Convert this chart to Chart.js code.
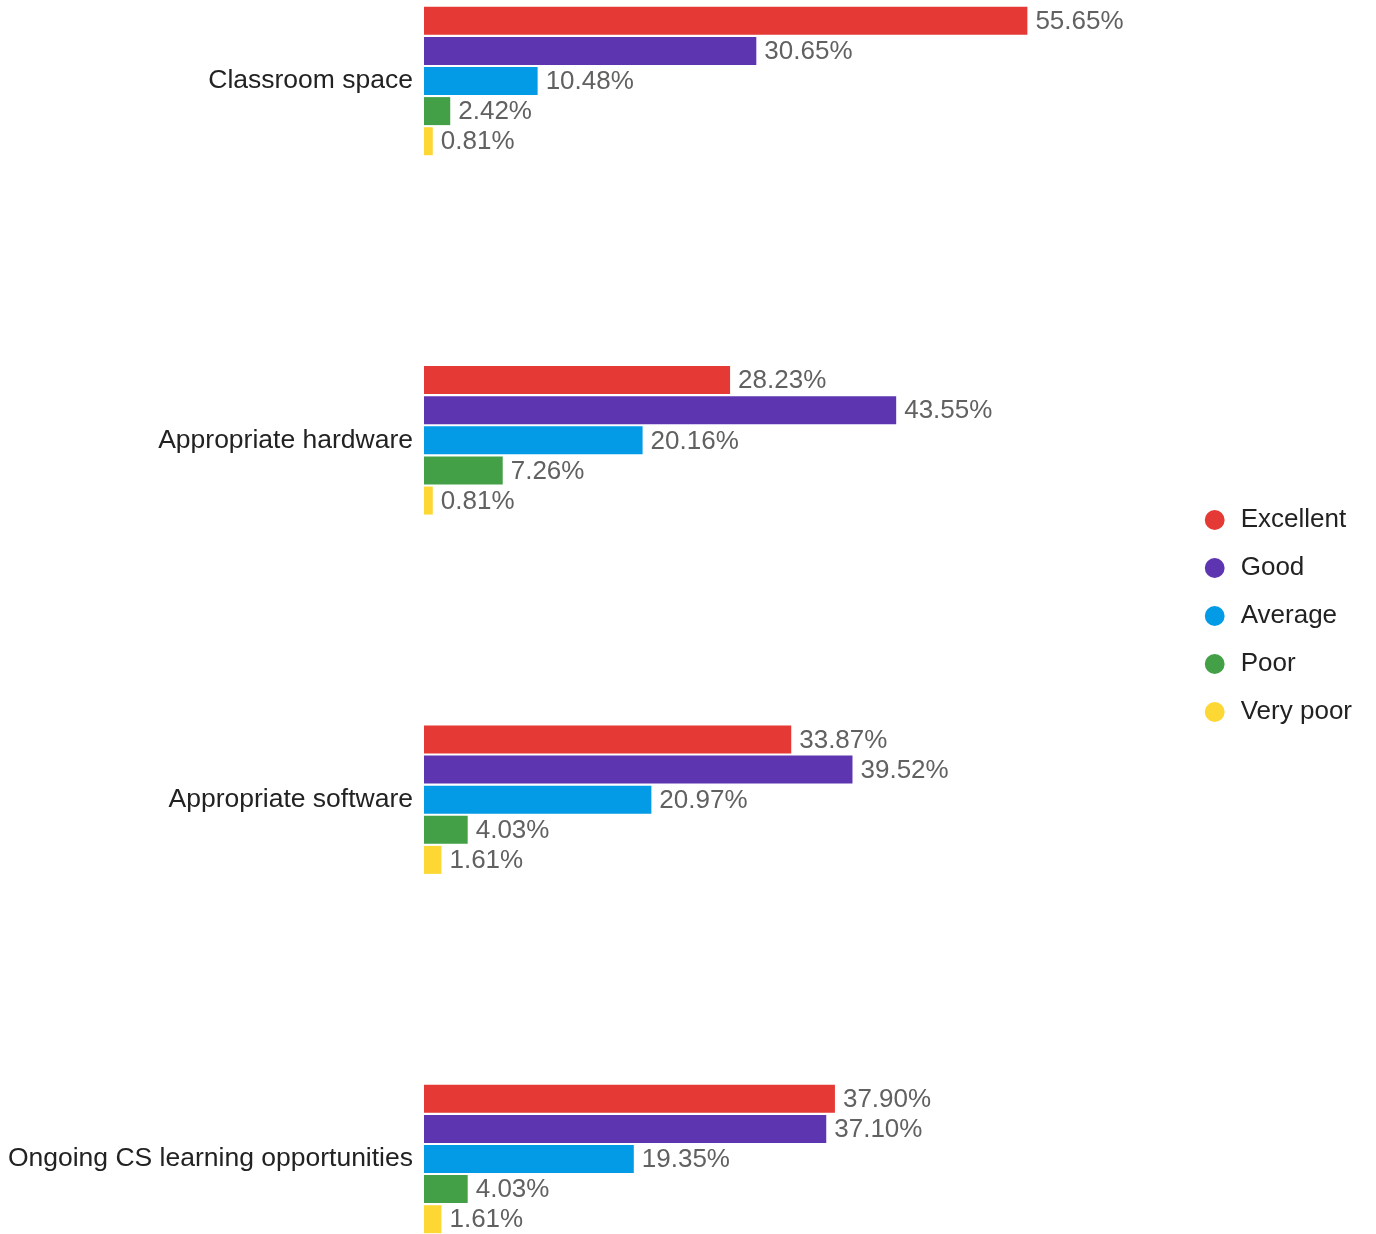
<!DOCTYPE html>
<html>
<head>
<meta charset="utf-8">
<title>CS facilities rating</title>
<script src="https://cdn.jsdelivr.net/npm/chart.js@4/dist/chart.umd.min.js"></script>
<style>
  html, body { margin: 0; padding: 0; background: #fff; }
  #wrap { width: 1376px; height: 1234px; position: relative; }
</style>
</head>
<body>
<div id="wrap"><canvas id="chart"></canvas></div>
<script>
// categories and series (percent of respondents)
const categories = ['Classroom space', 'Appropriate hardware', 'Appropriate software', 'Ongoing CS learning opportunities'];
const seriesNames = ['Excellent', 'Good', 'Average', 'Poor', 'Very poor'];
const excellent = [55.65, 28.23, 33.87, 37.90];
const good = [30.65, 43.55, 39.52, 37.10];
const average = [10.48, 20.16, 20.97, 19.35];
const poor = [2.42, 7.26, 4.03, 4.03];
const veryPoor = [0.81, 0.81, 1.61, 1.61];

const seriesColors = ['#e53935', '#5e35b1', '#039be5', '#43a047', '#fdd835'];
const seriesValues = [excellent, good, average, poor, veryPoor];

Chart.defaults.font.family = '"Liberation Sans", Arial, sans-serif';

// value labels just right of each bar
const barValueLabels = {
    id: 'barValueLabels',
    afterDatasetsDraw(chart) {
        const ctx = chart.ctx;
        ctx.save();
        ctx.font = '26px "Liberation Sans", Arial, sans-serif';
        ctx.fillStyle = '#616161';
        ctx.textAlign = 'left';
        ctx.textBaseline = 'middle';
        chart.data.datasets.forEach((ds, i) => {
            const meta = chart.getDatasetMeta(i);
            meta.data.forEach((bar, j) => {
                ctx.fillText(ds.data[j].toFixed(2) + '%', bar.x + 8, bar.y + 1);
            });
        });
        ctx.restore();
    }
};

// small vertical nudge for the legend column
const legendShift = {
    id: 'legendShift',
    afterLayout(chart) {
        const lg = chart.legend;
        if (lg) {
            lg.top -= 4;
            lg.bottom -= 4;
        }
    }
};

const datasets = seriesNames.map((name, i) => ({
    label: name,
    data: seriesValues[i],
    backgroundColor: seriesColors[i],
    borderWidth: 0,
    categoryPercentage: 0.419,
    barPercentage: 0.93,
    clip: false
}));

new Chart(document.getElementById('chart'), {
    type: 'bar',
    data: { labels: categories, datasets: datasets },
    options: {
        indexAxis: 'y',
        responsive: true,
        maintainAspectRatio: false,
        animation: false,
        layout: {
            padding: { top: 81, bottom: 75, left: 0, right: 14 }
        },
        scales: {
            x: {
                display: false,
                min: 0,
                max: 69.7
            },
            y: {
                offset: false,
                grid: { display: false, drawTicks: false, offset: false },
                border: { display: false },
                ticks: {
                    padding: 11,
                    color: '#222222',
                    font: { size: 26.5 }
                },
                afterFit: (scale) => { scale.width = 424; }
            }
        },
        plugins: {
            legend: {
                position: 'right',
                align: 'center',
                labels: {
                    usePointStyle: true,
                    pointStyle: 'circle',
                    boxWidth: 26,
                    boxHeight: 14,
                    padding: 22,
                    color: '#222222',
                    font: { size: 26 }
                }
            },
            tooltip: { enabled: false }
        }
    },
    plugins: [barValueLabels, legendShift]
});
</script>
</body>
</html>
